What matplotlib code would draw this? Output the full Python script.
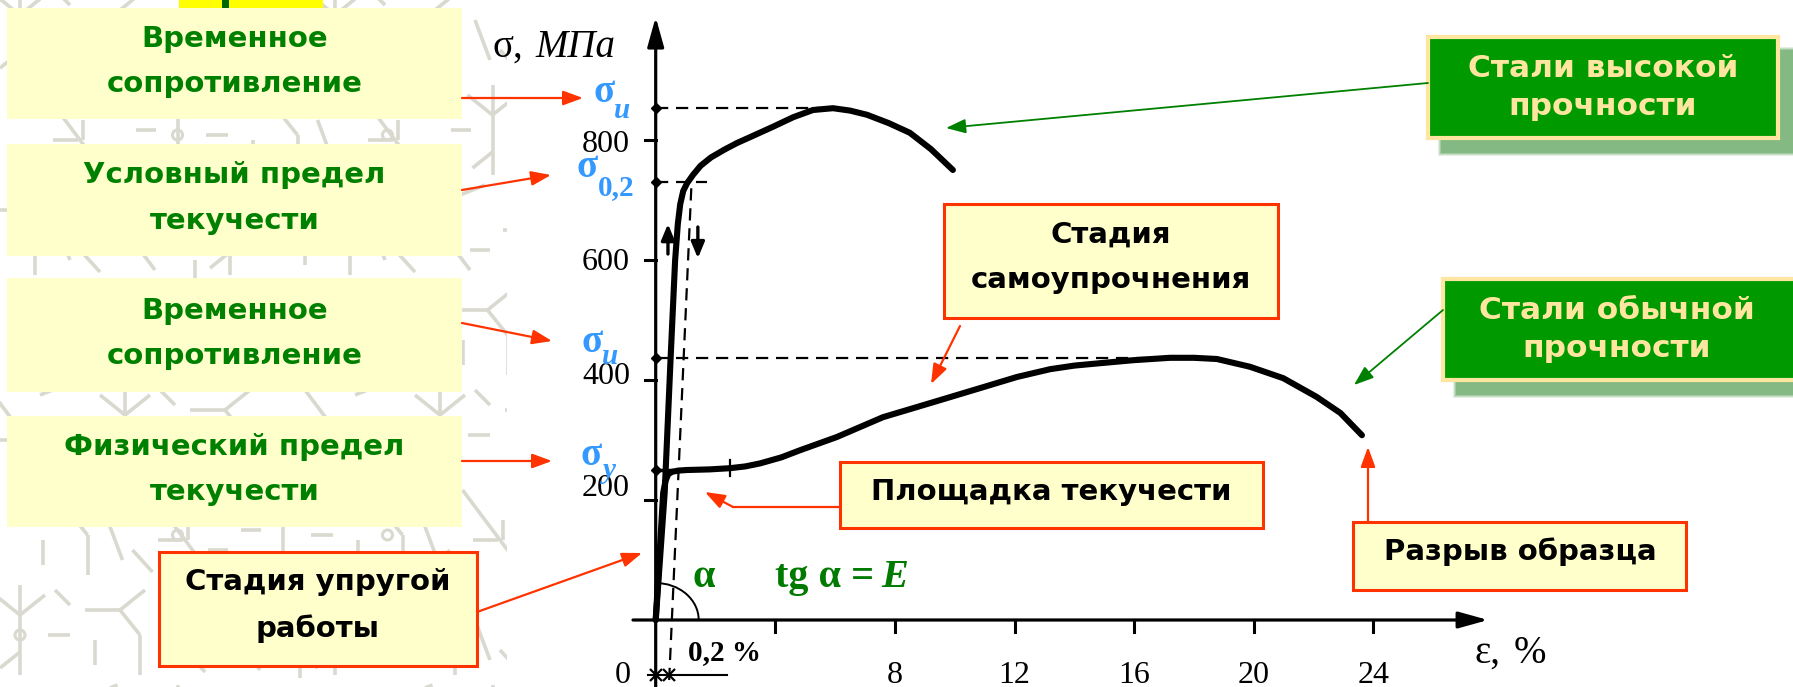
import matplotlib
matplotlib.use('Agg')
import matplotlib.pyplot as plt
from matplotlib.patches import Rectangle, Arc, Circle
from matplotlib.collections import LineCollection

# ---------------- data ----------------
eps_high = [0, 0.30, 0.50, 0.65, 0.74, 0.82, 0.92, 1.05, 1.25, 1.50, 1.85, 2.30, 2.72,
            3.30, 3.92, 4.60, 5.26, 5.93, 6.50, 7.07, 7.80, 8.50, 9.20, 9.94]
sig_high = [0, 212, 438, 600, 660, 693, 715, 728, 742, 757, 771, 784, 795,
            808, 822, 838, 850, 853, 849, 842, 828, 812, 785, 750]

eps_ord = [0, 0.25, 0.33, 0.42, 0.55, 0.75, 1.05, 1.80, 2.48, 3.00, 3.49, 4.20, 4.83,
           6.06, 7.60, 9.28, 10.95, 12.08, 13.19, 14.00, 14.86, 15.97, 17.20, 18.00,
           18.77, 19.88, 20.99, 22.10, 22.90, 23.62]
sig_ord = [0, 212, 232, 243, 247, 249, 250, 251, 253, 256, 261, 271, 283,
           305, 338, 363, 388, 405, 418, 424, 428, 433, 437, 437,
           435, 422, 403, 372, 345, 308]

ref_levels = [853, 730, 437]          # sigma_u (high), sigma_0.2, sigma_u (ordinary)
ref_ends = [5.6, 1.7, 17.5]           # strain where dashed reference lines end
sigma_y = 250

eps_offset = [0.45, 1.20]             # 0.2 % offset line
sig_offset = [-100, 730]

x_ticks = [0, 4, 8, 12, 16, 20, 24]
x_labels = ['0', '', '8', '12', '16', '20', '24']
y_ticks = [200, 400, 600, 800]
y_labels = ['200', '400', '600', '800']

# ---------------- geometry ----------------
W, H = 1793, 687
X0, SX, Y0, SY = 655.7, 29.9, 620.0, 0.6   # px of origin, px per %, px per MPa

fig = plt.figure(figsize=(W / 100, H / 100), dpi=100, facecolor='white')

# background pattern (pixel coords)
bg = fig.add_axes([0, 0, 1, 1])
bg.set_xlim(0, W); bg.set_ylim(H, 0); bg.axis('off')
segs = []
circs = []
tw, th = 105, 100
tiles = [
    [((50, 5), (50, 95)), ((50, 35), (25, 15)), ((50, 35), (75, 15)),
     ((50, 72), (30, 88)), ((8, 50), (28, 50)), ((78, 55), (100, 55)),
     ((15, 80), (15, 98)), ((85, 10), (100, 25))],
    [((20, 10), (80, 90)), ((30, 60), (55, 60)), ((70, 15), (95, 5)),
     ((60, 40), (60, 60)), ((5, 70), (25, 92)), ((80, 70), (100, 70))],
    [((10, 30), (45, 30)), ((45, 30), (70, 10)), ((45, 30), (65, 55)),
     ((65, 55), (65, 95)), ((20, 60), (20, 85)), ((85, 40), (100, 80))],
]
for r in range(8):
    for c in range(6):
        ox = c * tw + (tw / 2 if r % 2 else 0) - 30
        oy = r * th - 20
        base = tiles[(r + 2 * c) % 3]
        for (a, b) in base:
            segs.append([(ox + a[0], oy + a[1]), (ox + b[0], oy + b[1])])
        if (r + c) % 2 == 0:
            circs.append((ox + 50, oy + 55))
clip = Rectangle((0, 0), 507, H, transform=bg.transData)
lc = LineCollection(segs, colors='#d9d9d0', linewidths=2.6)
bg.add_collection(lc)
lc.set_clip_path(clip)
for (cx, cy) in circs:
    p = Circle((cx, cy), 5, fc='none', ec='#d9d9d0', lw=2.2)
    bg.add_patch(p)
    p.set_clip_path(clip)

# data axes
ax = fig.add_axes([0, 0, 1, 1])
ax.set_xlim(-X0 / SX, (W - X0) / SX)
ax.set_ylim((Y0 - H) / SY, Y0 / SY)
ax.axis('off')
ax.patch.set_alpha(0)

serif = 'Liberation Serif'
sans = 'DejaVu Sans'

# axes with arrows
ax.annotate('', xy=(0, 1005), xytext=(0, (Y0 - H) / SY),
            arrowprops=dict(arrowstyle='-|>,head_length=0.9,head_width=0.25',
                            lw=2.3, color='k', shrinkA=0, shrinkB=0, mutation_scale=20))
ax.annotate('', xy=(27.84, 0), xytext=(-0.76, 0),
            arrowprops=dict(arrowstyle='-|>,head_length=0.9,head_width=0.25',
                            lw=2.3, color='k', shrinkA=0, shrinkB=0, mutation_scale=20))

# ticks
for v in y_ticks:
    ax.plot([-0.37, 0], [v, v], color='k', lw=2.2)
for v in x_ticks[1:]:
    ax.plot([v, v], [0, -20], color='k', lw=2.2)

# tick labels
y_label_dy = [7, -7, -17, -20]
for v, lab, dy in zip(y_ticks, y_labels, y_label_dy):
    ax.text(-0.86, v + dy, lab, ha='right', va='baseline', fontsize=23,
            family=serif, color='k')
for v, lab in zip(x_ticks, x_labels):
    if not lab:
        continue
    xx = v if v else -1.1
    ax.text(xx, -105, lab, ha='center', va='baseline', fontsize=23,
            family=serif, color='k')

# reference dashed lines and dots
for s, e in zip(ref_levels, ref_ends):
    ax.plot([0, e], [s, s], color='k', lw=1.6, ls=(0, (5.5, 3.5)))
for s in ref_levels + [sigma_y]:
    ax.plot(0, s, marker='D', ms=5, color='k')
ax.plot([0, 0.5], [sigma_y, sigma_y], color='k', lw=2.5)

# offset line and dimension
ax.plot(eps_offset, sig_offset, color='k', lw=1.6, ls=(0, (5.5, 3.5)))
ax.plot([-0.25, 2.4], [-92, -92], color='k', lw=1.5)
for e in (0, 0.46):
    ax.plot(e, -92, marker='x', ms=8, mew=1.6, color='k')

# curves
ax.plot(eps_ord, sig_ord, color='k', lw=4.4, solid_capstyle='round',
        solid_joinstyle='round', zorder=5)
ax.plot(eps_high, sig_high, color='k', lw=4.4, solid_capstyle='round',
        solid_joinstyle='round', zorder=5)
ax.plot([2.48, 2.48], [240, 266], color='k', lw=1.6)

# angle arc
ax.add_patch(Arc((0, 0), 2 * 43 / SX, 2 * 37 / SY, theta1=0, theta2=90,
                 color='k', lw=1.4))

# loading / unloading arrows
ax.annotate('', xy=(0.41, 660), xytext=(0.41, 610),
            arrowprops=dict(arrowstyle='-|>,head_length=0.6,head_width=0.25',
                            lw=2.4, color='k', shrinkA=0, shrinkB=0, mutation_scale=16))
ax.annotate('', xy=(1.41, 603), xytext=(1.41, 655),
            arrowprops=dict(arrowstyle='-|>,head_length=0.6,head_width=0.25',
                            lw=2.4, color='k', shrinkA=0, shrinkB=0, mutation_scale=16))

# ---------------- layout layer (pixel coords) ----------------
lay = fig.add_axes([0, 0, 1, 1])
lay.set_xlim(0, W); lay.set_ylim(H, 0); lay.axis('off')
lay.patch.set_alpha(0)

# top yellow marker
lay.add_patch(Rectangle((179, 0), 144, 8, fc='#ffff00', ec='none'))
lay.add_patch(Rectangle((222, 0), 7, 8, fc='#006600', ec='none'))

LY = '#ffffcc'
RED = '#ff3300'
GT = '#008000'


def box(x0, y0, x1, y1, fc, ec='none', lw=0):
    lay.add_patch(Rectangle((x0, y0), x1 - x0, y1 - y0, fc=fc, ec=ec, lw=lw, zorder=3))


def btext(x, y, s, color, size=21):
    lay.text(x, y, s, ha='center', va='baseline', fontsize=size, fontweight='bold',
             family=sans, color=color, zorder=4)


# left green-text boxes
left_boxes = [
    ((7, 8, 462, 119), ['Временное', 'сопротивление'], [47, 92]),
    ((7, 144, 462, 256), ['Условный предел', 'текучести'], [183, 229]),
    ((7, 278, 462, 392), ['Временное', 'сопротивление'], [319, 364]),
    ((7, 416, 462, 527), ['Физический предел', 'текучести'], [455, 500]),
]
for (x0, y0, x1, y1), lines, bls in left_boxes:
    box(x0, y0, x1, y1, LY)
    for s, b in zip(lines, bls):
        btext((x0 + x1) / 2, b, s, GT)

# red-bordered boxes
red_boxes = [
    ((159, 552, 477, 666), ['Стадия упругой', 'работы'], [590, 637], 318),
    ((944, 204, 1278, 318), ['Стадия', 'самоупрочнения'], [243, 288], 1111),
    ((840, 462, 1263, 528), ['Площадка текучести'], [500], 1051),
    ((1353, 522, 1686, 590), ['Разрыв образца'], [560], 1520),
]
for (x0, y0, x1, y1), lines, bls, cx in red_boxes:
    box(x0, y0, x1, y1, LY, ec=RED, lw=2.2)
    for s, b in zip(lines, bls):
        btext(cx, b, s, 'k')

# green boxes with shadow
green_boxes = [
    ((1428, 37, 1778, 138), ['Стали высокой', 'прочности'], [77, 115], 1603),
    ((1443, 279, 1796, 380), ['Стали обычной', 'прочности'], [319, 357], 1617),
]
for (x0, y0, x1, y1), lines, bls, cx in green_boxes:
    for k, a in enumerate([0.2, 0.3, 0.45, 0.8]):
        d = 4 - k
        lay.add_patch(Rectangle((x0 + 14 - d, y0 + 14 - d), x1 - x0 + 2 * d,
                                y1 - y0 + 2 * d, fc='#7db57d', ec='none',
                                alpha=a, zorder=2))
    box(x0, y0, x1, y1, '#009900', ec='#ffe6a0', lw=3)
    for s, b in zip(lines, bls):
        btext(cx, b, s, '#ffe6a0', size=22.5)


def arrow(start, tip, color, lw=1.6):
    lay.annotate('', xy=tip, xytext=start,
                 arrowprops=dict(arrowstyle='-|>,head_length=0.6,head_width=0.22',
                                 color=color, lw=lw, shrinkA=0, shrinkB=0,
                                 mutation_scale=20), zorder=4)


arrow((462, 98), (583, 98), RED)
arrow((462, 190), (551, 175), RED)
arrow((462, 323), (552, 341), RED)
arrow((462, 461), (552, 461), RED)
arrow((477, 612), (642, 553), RED)
lay.plot([840, 733], [507, 507], color=RED, lw=1.6, zorder=4)
arrow((733, 507), (705, 492), RED)
arrow((960, 326), (931, 384), RED)
arrow((1368, 522), (1368, 447), RED)
arrow((1428, 83), (946, 128), GT, lw=1.3)
arrow((1443, 310), (1354, 385), GT, lw=1.3)

# axis titles
lay.text(493, 57, 'σ,', ha='left', va='baseline', fontsize=28, family=serif, color='k')
lay.text(535, 57, 'МПа', ha='left', va='baseline', fontsize=28, family=serif,
         style='italic', color='k')
lay.text(1474, 663, 'ε,', ha='left', va='baseline', fontsize=28, family=serif, color='k')
lay.text(1514, 663, '%', ha='left', va='baseline', fontsize=28, family=serif, color='k')

# sigma labels
BL = '#3399ff'


def sig_label(x, y, sub, sx, sy, italic=True, sub_ha='center'):
    lay.text(x, y, 'σ', ha='center', va='baseline', fontsize=28, fontweight='bold',
             family=serif, color=BL, zorder=4)
    lay.text(sx, sy, sub, ha=sub_ha, va='baseline', fontsize=21, fontweight='bold',
             family=serif, style='italic' if italic else 'normal', color=BL, zorder=4)


sig_label(604, 102, 'u', 622, 118)
sig_label(587, 177, '0,2', 598, 195, italic=False, sub_ha='left')
sig_label(592, 352, 'u', 610, 364)
sig_label(591, 465, 'y', 609, 478)

# annotations in chart
lay.text(725, 660, '0,2 %', ha='center', va='baseline', fontsize=21, fontweight='bold',
         family=serif, color='k')
lay.text(704, 587, 'α', ha='center', va='baseline', fontsize=29, fontweight='bold',
         family=serif, color='#007a00')
lay.text(775, 587, 'tg α =', ha='left', va='baseline', fontsize=29, fontweight='bold',
         family=serif, color='#007a00')
lay.text(881, 587, 'E', ha='left', va='baseline', fontsize=29, fontweight='bold',
         family=serif, style='italic', color='#007a00')

fig.savefig('out.png', dpi=100, facecolor='white')
